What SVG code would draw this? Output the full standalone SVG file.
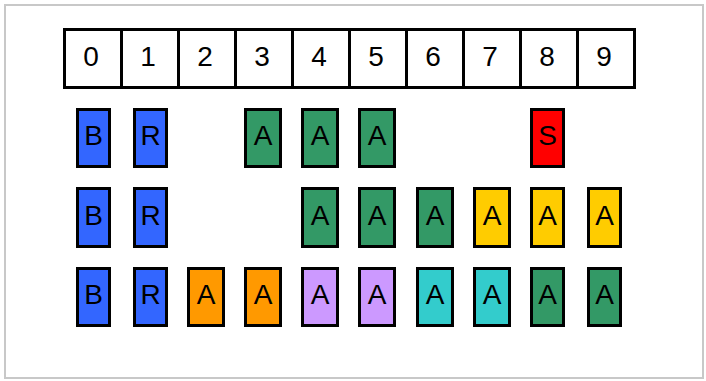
<svg xmlns="http://www.w3.org/2000/svg" width="706" height="381" viewBox="0 0 706 381">
<style>
.frame{fill:#fff;stroke:#c8c8c8;stroke-width:2}
.cell{fill:#fff;stroke:#000;stroke-width:3}
.card{stroke:#000;stroke-width:3}
.t{font-family:"Liberation Sans",Arial,sans-serif;font-size:28px;fill:#000;text-anchor:middle}
.B{fill:#3366ff}.G{fill:#339966}.S{fill:#ff0000}.Y{fill:#ffcc00}.O{fill:#ff9900}.P{fill:#cc99ff}.C{fill:#33cccc}
</style>
<rect class="frame" x="5" y="5" width="698" height="373"/>
<g id="index">
<rect class="cell" x="64.5" y="29.5" width="57" height="58"/>
<rect class="cell" x="121.5" y="29.5" width="57" height="58"/>
<rect class="cell" x="178.5" y="29.5" width="57" height="58"/>
<rect class="cell" x="235.5" y="29.5" width="57" height="58"/>
<rect class="cell" x="292.5" y="29.5" width="57" height="58"/>
<rect class="cell" x="349.5" y="29.5" width="57" height="58"/>
<rect class="cell" x="406.5" y="29.5" width="57" height="58"/>
<rect class="cell" x="463.5" y="29.5" width="57" height="58"/>
<rect class="cell" x="520.5" y="29.5" width="57" height="58"/>
<rect class="cell" x="577.5" y="29.5" width="57" height="58"/>
<text class="t" x="91" y="66">0</text>
<text class="t" x="148" y="66">1</text>
<text class="t" x="205" y="66">2</text>
<text class="t" x="262" y="66">3</text>
<text class="t" x="319" y="66">4</text>
<text class="t" x="376" y="66">5</text>
<text class="t" x="433" y="66">6</text>
<text class="t" x="490" y="66">7</text>
<text class="t" x="547" y="66">8</text>
<text class="t" x="604" y="66">9</text>
</g>
<g id="row1">
<g id="r1c0"><rect class="card B" x="77.5" y="109.5" width="32" height="57"/><text class="t" x="93.5" y="145">B</text></g>
<g id="r1c1"><rect class="card B" x="134.5" y="109.5" width="32" height="57"/><text class="t" x="150.5" y="145">R</text></g>
<g id="r1c3"><rect class="card G" x="245.5" y="109.5" width="35" height="57"/><text class="t" x="263" y="145">A</text></g>
<g id="r1c4"><rect class="card G" x="302.5" y="109.5" width="35" height="57"/><text class="t" x="320" y="145">A</text></g>
<g id="r1c5"><rect class="card G" x="359.5" y="109.5" width="35" height="57"/><text class="t" x="377" y="145">A</text></g>
<g id="r1c8"><rect class="card S" x="531.5" y="109.5" width="32" height="57"/><text class="t" x="547.5" y="145">S</text></g>
</g>
<g id="row2">
<g id="r2c0"><rect class="card B" x="77.5" y="188.5" width="32" height="58"/><text class="t" x="93.5" y="224.5">B</text></g>
<g id="r2c1"><rect class="card B" x="134.5" y="188.5" width="32" height="58"/><text class="t" x="150.5" y="224.5">R</text></g>
<g id="r2c4"><rect class="card G" x="302.5" y="188.5" width="35" height="58"/><text class="t" x="320" y="224.5">A</text></g>
<g id="r2c5"><rect class="card G" x="359.5" y="188.5" width="35" height="58"/><text class="t" x="377" y="224.5">A</text></g>
<g id="r2c6"><rect class="card G" x="417.5" y="188.5" width="35" height="58"/><text class="t" x="435" y="224.5">A</text></g>
<g id="r2c7"><rect class="card Y" x="474.5" y="188.5" width="35" height="58"/><text class="t" x="492" y="224.5">A</text></g>
<g id="r2c8"><rect class="card Y" x="531.5" y="188.5" width="32" height="58"/><text class="t" x="547.5" y="224.5">A</text></g>
<g id="r2c9"><rect class="card Y" x="588.5" y="188.5" width="32" height="58"/><text class="t" x="604.5" y="224.5">A</text></g>
</g>
<g id="row3">
<g id="r3c0"><rect class="card B" x="77.5" y="268.5" width="32" height="57"/><text class="t" x="93.5" y="304">B</text></g>
<g id="r3c1"><rect class="card B" x="134.5" y="268.5" width="32" height="57"/><text class="t" x="150.5" y="304">R</text></g>
<g id="r3c2"><rect class="card O" x="188.5" y="268.5" width="35" height="57"/><text class="t" x="206" y="304">A</text></g>
<g id="r3c3"><rect class="card O" x="245.5" y="268.5" width="35" height="57"/><text class="t" x="263" y="304">A</text></g>
<g id="r3c4"><rect class="card P" x="302.5" y="268.5" width="35" height="57"/><text class="t" x="320" y="304">A</text></g>
<g id="r3c5"><rect class="card P" x="359.5" y="268.5" width="35" height="57"/><text class="t" x="377" y="304">A</text></g>
<g id="r3c6"><rect class="card C" x="417.5" y="268.5" width="35" height="57"/><text class="t" x="435" y="304">A</text></g>
<g id="r3c7"><rect class="card C" x="474.5" y="268.5" width="35" height="57"/><text class="t" x="492" y="304">A</text></g>
<g id="r3c8"><rect class="card G" x="531.5" y="268.5" width="32" height="57"/><text class="t" x="547.5" y="304">A</text></g>
<g id="r3c9"><rect class="card G" x="588.5" y="268.5" width="32" height="57"/><text class="t" x="604.5" y="304">A</text></g>
</g>
</svg>
